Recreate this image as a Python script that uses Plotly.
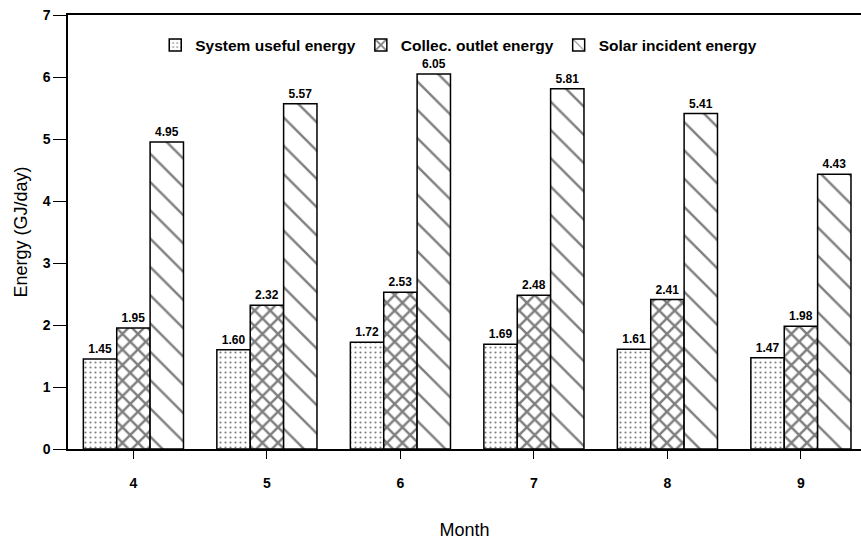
import plotly.graph_objects as go

# Monthly average daily energy (GJ/day)
months = ["4", "5", "6", "7", "8", "9"]
system_useful = [1.45, 1.60, 1.72, 1.69, 1.61, 1.47]
collector_outlet = [1.95, 2.32, 2.53, 2.48, 2.41, 1.98]
solar_incident = [4.95, 5.57, 6.05, 5.81, 5.41, 4.43]

series = [
    ("System useful energy", system_useful, dict(shape=".", size=5, solidity=0.15)),
    ("Collec. outlet energy", collector_outlet, dict(shape="x", size=11, solidity=0.4)),
    ("Solar incident energy", solar_incident, dict(shape="\\", size=20, solidity=0.12)),
]

label_font = dict(family="Liberation Sans", size=12, color="black", weight="bold")

fig = go.Figure()
for name, vals, pat in series:
    fig.add_trace(go.Bar(
        x=months, y=vals, name=name,
        marker=dict(
            color="white",
            line=dict(color="black", width=1.5),
            pattern=dict(fgcolor="black", bgcolor="white", fillmode="overlay", **pat),
        ),
        texttemplate="%{y:.2f}", textposition="outside",
        textfont=label_font, cliponaxis=False,
    ))

fig.update_layout(
    width=861, height=553,
    margin=dict(l=68, r=0, t=15, b=104),
    paper_bgcolor="white", plot_bgcolor="white",
    barmode="group", bargap=0.25, bargroupgap=0,
    font=dict(family="Liberation Sans", color="black"),
    legend=dict(
        orientation="h", x=0.11, y=0.93, xanchor="left", yanchor="middle",
        font=dict(family="Liberation Sans", size=15.5, color="black", weight="bold"),
        bgcolor="rgba(0,0,0,0)", itemwidth=30, tracegroupgap=0,
    ),
    xaxis=dict(
        range=[-0.49, 5.45], showline=True, linecolor="black", linewidth=1.5,
        mirror=True, ticks="outside", ticklen=8, tickcolor="black",
        ticklabelstandoff=12,
        tickfont=dict(size=14, family="Liberation Sans", weight="bold"),
        title=dict(text="Month", font=dict(size=18), standoff=34),
        showgrid=False, zeroline=False,
    ),
    yaxis=dict(
        range=[0, 7], dtick=1, showline=True, linecolor="black", linewidth=1.5,
        ticks="outside", ticklen=13, tickcolor="black", tickwidth=1.2,
        tickfont=dict(size=14, family="Liberation Sans", weight="bold"),
        title=dict(text="Energy (GJ/day)", font=dict(size=18), standoff=10),
        showgrid=False, zeroline=False,
    ),
)

fig.write_html("out.html")
